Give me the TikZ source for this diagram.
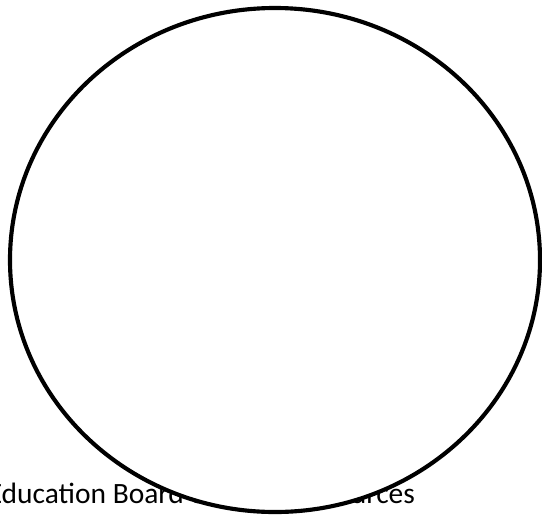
\documentclass[tikz,border=0pt]{standalone}
\usepackage{fontspec}
\setmainfont{Carlito}
\usetikzlibrary{positioning}

\tikzset{
  caption/.style={anchor=base west, inner sep=0pt, font=\fontsize{22.1pt}{26pt}\selectfont},
  bigring/.style={draw=black, line width=3.1pt, fill=white}
}

\begin{document}
\begin{tikzpicture}[x=0.75pt, y=-0.75pt]
  \useasboundingbox (0,0) rectangle (542,515);
  \node[caption] (boardtext) at (-12.5,503) {Education Board \& Other Resources};
  \coordinate (ringcentre) at (275,260);
  \draw[bigring] (ringcentre) ellipse [x radius=265, y radius=252];
\end{tikzpicture}
\end{document}
